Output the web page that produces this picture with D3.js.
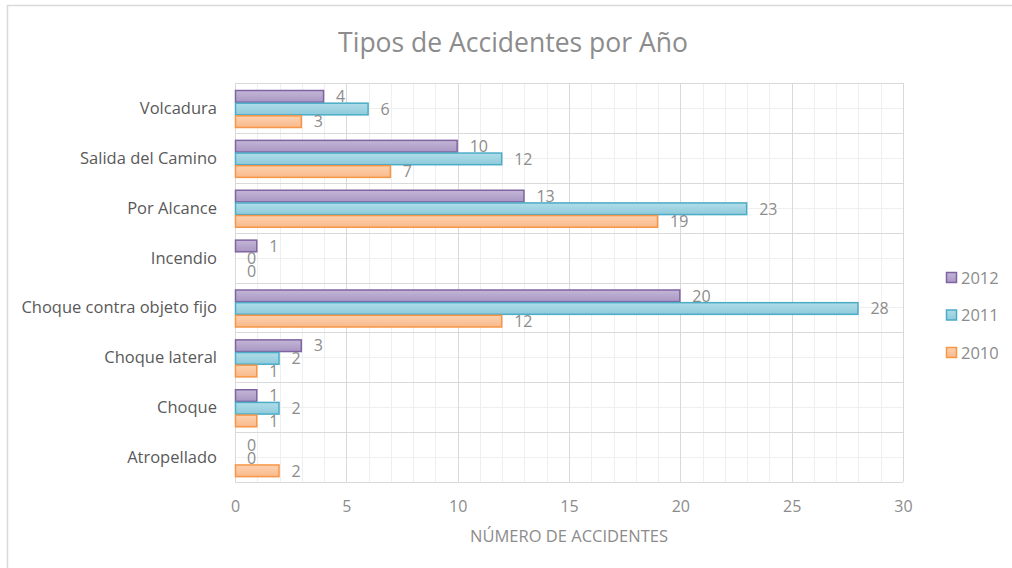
<!DOCTYPE html>
<html><head><meta charset="utf-8">
<script src="https://cdn.jsdelivr.net/npm/d3@7"></script>
<style>body{margin:0;background:#fff}svg{display:block}text{font-family:"Open Sans",sans-serif}</style>
</head><body><svg id="c" width="1012" height="568"></svg>
<script>
const categories = ["Volcadura","Salida del Camino","Por Alcance","Incendio","Choque contra objeto fijo","Choque lateral ","Choque","Atropellado"];
const years = ["2012","2011","2010"];
const v2012 = [4,10,13,1,20,3,1,0];
const v2011 = [6,12,23,0,28,2,2,0];
const v2010 = [3,7,19,0,12,1,1,2];
const xTicks = [0,5,10,15,20,25,30];
const series = [v2012, v2011, v2010];
const fills = [["#c3b6d6","#a997c4"],["#b0dde9","#8fcadb"],["#fdd2b0","#f9b98a"]];
const strokes = ["#8064a2","#4bacc6","#f79646"];

const svg = d3.select("#c");
const defs = svg.append("defs");
fills.forEach((f,i)=>{
  const g = defs.append("linearGradient").attr("id","g"+i).attr("x1",0).attr("y1",0).attr("x2",0).attr("y2",1);
  g.append("stop").attr("offset","0%").attr("stop-color",f[0]);
  g.append("stop").attr("offset","100%").attr("stop-color",f[1]);
});

svg.append("rect").attr("x",7.5).attr("y",5.5).attr("width",1200).attr("height",1000).attr("fill","none").attr("stroke","#d9d9d9").attr("stroke-width",1.5);

const L=235, R=903, T=83, B=482;
const x = d3.scaleLinear().domain([0,30]).range([L,R]);
const y = d3.scaleBand().domain(categories).range([T,B]);
const sub = d3.scaleBand().domain(years).range([7,45]);

const grid = svg.append("g");
d3.range(0,31).filter(d=>d%5).forEach(d=>{
  grid.append("line").attr("x1",Math.round(x(d))+0.5).attr("x2",Math.round(x(d))+0.5).attr("y1",T).attr("y2",B).attr("stroke","#efefef");
});
categories.forEach(c=>{
  const ym = Math.round(y(c)+y.bandwidth()/2)+0.5;
  grid.append("line").attr("x1",L).attr("x2",R).attr("y1",ym).attr("y2",ym).attr("stroke","#efefef");
});
xTicks.forEach(d=>{
  grid.append("line").attr("x1",Math.round(x(d))+0.5).attr("x2",Math.round(x(d))+0.5).attr("y1",T).attr("y2",B).attr("stroke","#d9d9d9");
});
categories.concat([null]).forEach((c,i)=>{
  const yy = Math.round(T + i*y.step())+0.5;
  grid.append("line").attr("x1",L).attr("x2",R).attr("y1",yy).attr("y2",yy).attr("stroke","#d9d9d9");
});

const gBars = svg.append("g");
categories.forEach((c,ci)=>{
  years.forEach((yr,si)=>{
    const val = series[si][ci];
    const by = y(c)+sub(yr);
    if(val>0){
      gBars.append("rect").attr("x",x(0)+0.5).attr("y",by+0.5).attr("width",x(val)-x(0)-1).attr("height",sub.bandwidth()-1)
        .attr("fill","url(#g"+si+")").attr("stroke",strokes[si]).attr("stroke-width",1.5);
    }
    gBars.append("text").attr("x",x(val)+12).attr("y",by+sub.bandwidth()/2).attr("dy","0.36em")
      .attr("fill","#8c8c8c").attr("font-size",16).text(val);
  });
});

svg.append("g").selectAll("text").data(categories).join("text")
  .attr("x",217).attr("y",d=>y(d)+y.bandwidth()/2).attr("dy","0.36em").attr("text-anchor","end")
  .attr("fill","#595959").attr("font-size",16.5).text(d=>d);

const xa = svg.append("g").attr("transform",`translate(0,${B})`).call(d3.axisBottom(x).tickValues(xTicks).tickSize(0).tickPadding(19));
xa.select(".domain").remove();
xa.selectAll("text").attr("fill","#8c8c8c").attr("font-size",16).attr("font-family","Open Sans");

svg.append("text").attr("x",569).attr("y",536).attr("dy","0.36em").attr("text-anchor","middle").attr("fill","#8c8c8c").attr("font-size",16.5).text("NÚMERO DE ACCIDENTES");
svg.append("text").attr("x",513).attr("y",42).attr("dy","0.36em").attr("text-anchor","middle").attr("fill","#8c8c8c").attr("font-size",26.5).text("Tipos de Accidentes por Año");

const lg = svg.append("g");
years.forEach((yr,i)=>{
  const ly = 278 + i*37.5;
  lg.append("rect").attr("x",946.5).attr("y",ly-5.5).attr("width",10).attr("height",10).attr("fill","url(#g"+i+")").attr("stroke",strokes[i]).attr("stroke-width",1.5);
  lg.append("text").attr("x",961).attr("y",ly).attr("dy","0.36em").attr("fill","#8c8c8c").attr("font-size",16.5).text(yr);
});
</script></body></html>
